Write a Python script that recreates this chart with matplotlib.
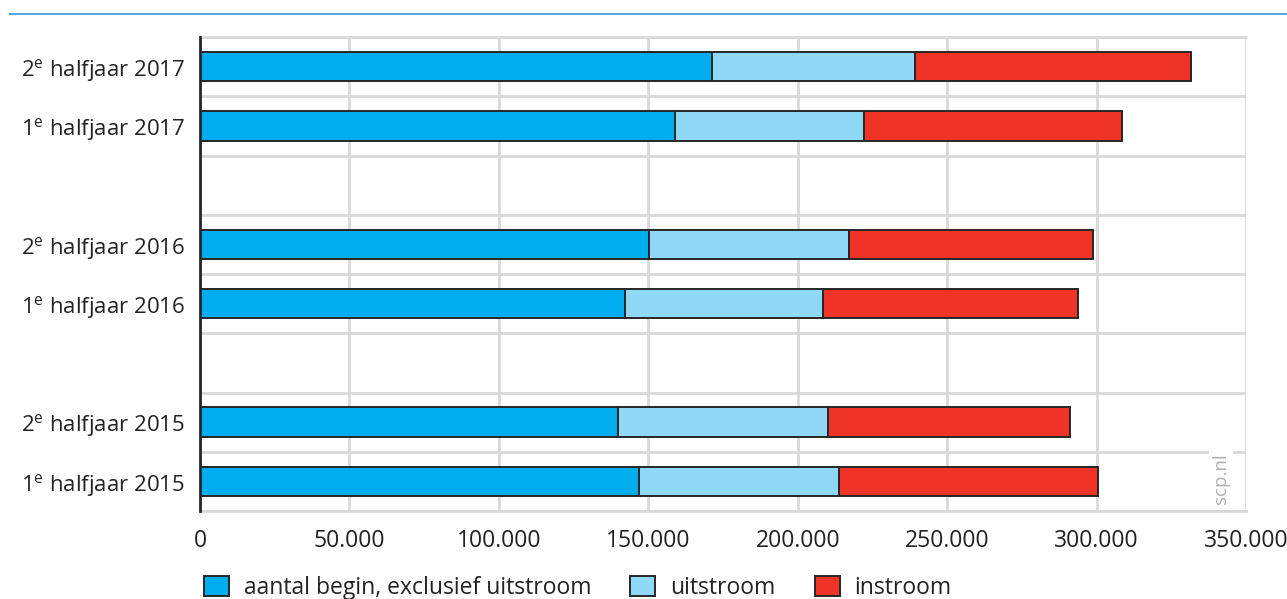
import matplotlib
matplotlib.use("Agg")
import matplotlib.pyplot as plt
from matplotlib.lines import Line2D
from matplotlib.patches import Patch
import numpy as np

plt.rcParams['font.family'] = ['Open Sans', 'DejaVu Sans']
plt.rcParams['mathtext.fontset'] = 'custom'
plt.rcParams['mathtext.rm'] = 'Open Sans'
plt.rcParams['mathtext.it'] = 'Open Sans'

# Data (top to bottom), grouped per year
categories = ["2$^{\\mathrm{e}}$ halfjaar 2017", "1$^{\\mathrm{e}}$ halfjaar 2017",
              "2$^{\\mathrm{e}}$ halfjaar 2016", "1$^{\\mathrm{e}}$ halfjaar 2016",
              "2$^{\\mathrm{e}}$ halfjaar 2015", "1$^{\\mathrm{e}}$ halfjaar 2015"]
begin_excl = [171300, 158800, 150200, 142200, 139800, 146900]
uitstroom = [68000, 63500, 66900, 66400, 70200, 66900]
instroom = [92200, 86300, 81800, 85300, 81000, 86800]
series_names = ["aantal begin, exclusief uitstroom", "uitstroom", "instroom"]
colors = ["#00aeef", "#8fd9f7", "#ef3326"]
xticks = [0, 50000, 100000, 150000, 200000, 250000, 300000, 350000]
xticklabels = ["0", "50.000", "100.000", "150.000", "200.000", "250.000", "300.000", "350.000"]

# two bars per year, one empty slot between years
pos = np.array([(i // 2) * 3 + (i % 2) for i in range(len(categories))])

fig = plt.figure(figsize=(12.87, 5.99), dpi=100)
ax = fig.add_axes([200/1287, 1 - 511/599, 1046/1287, 474/599])

left = np.zeros(len(categories))
for vals, col in zip([begin_excl, uitstroom, instroom], colors):
    ax.barh(pos, vals, left=left, height=0.5, color=col, edgecolor="#262626",
            linewidth=1.4, zorder=3)
    left = left + np.array(vals)

ax.set_xlim(0, 350000)
ax.set_ylim(pos.max() + 0.5, -0.5)
ax.set_xticks(xticks)
ax.set_xticklabels(xticklabels, fontsize=16.5, color="#222222")
ax.set_yticks(pos)
ax.set_yticklabels(categories, fontsize=16, color="#222222")
ax.set_yticks(np.arange(-0.5, pos.max() + 1.0, 1.0), minor=True)
ax.tick_params(axis='both', which='both', length=0)
ax.tick_params(axis='x', pad=13)
ax.tick_params(axis='y', pad=11)
ax.grid(True, axis='x', which='major', color="#d9d9d9", linewidth=2, zorder=0)
ax.grid(True, axis='y', which='minor', color="#d9d9d9", linewidth=2, zorder=0)
for s in ['top', 'right', 'bottom']:
    ax.spines[s].set_visible(False)
ax.spines['left'].set_color("#262626")
ax.spines['left'].set_linewidth(2)
ax.spines['left'].set_zorder(4)
ax.axhline(pos.max() + 0.5, color="#d9d9d9", linewidth=2, zorder=0, clip_on=False)
ax.axhline(-0.5, color="#d9d9d9", linewidth=2, zorder=0, clip_on=False)

# watermark
ax.text(0.976, 0.015, "scp.nl", transform=ax.transAxes, rotation=90, fontsize=13.5,
        color="#b0b0b0", ha='center', va='bottom', zorder=5,
        bbox=dict(facecolor='white', edgecolor='none', pad=2))

# top rule
fig.add_artist(Line2D([10/1287, 1], [1 - 14/599, 1 - 14/599], color="#5aaadf", linewidth=1.5))

handles = [Patch(facecolor=c, edgecolor="#262626", linewidth=1.4) for c in colors]
fig.legend(handles, series_names, loc='lower left', bbox_to_anchor=(183/1287, -0.036),
           ncol=3, frameon=False, fontsize=16.5, handlelength=1.1, handleheight=1.0,
           columnspacing=1.7, handletextpad=0.65, labelcolor="#222222")

fig.savefig("out.png", dpi=100)
